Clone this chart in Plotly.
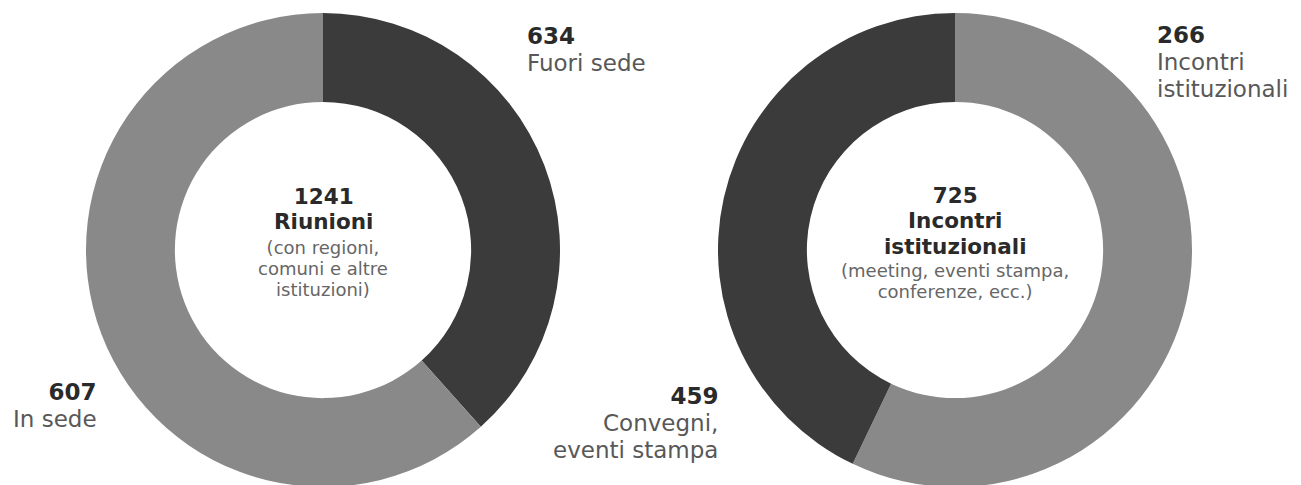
import plotly.graph_objects as go

W, H = 1301, 485
OFF = 8  # page body margin of the rendered html

# Left donut: Riunioni
left_labels = ["Fuori sede", "In sede"]
left_counts = [634, 607]
left_share = [38.4, 61.6]          # slice sizes as drawn in the picture (%)
left_total = 1241
left_title = ["1241", "Riunioni"]
left_sub = ["(con regioni,", "comuni e altre", "istituzioni)"]

# Right donut: Incontri istituzionali
right_labels = ["Incontri istituzionali", "Convegni, eventi stampa"]
right_counts = [266, 459]
right_share = [57.1, 42.9]         # slice sizes as drawn in the picture (%)
right_total = 725
right_title = ["725", "Incontri", "istituzionali"]
right_sub = ["(meeting, eventi stampa,", "conferenze, ecc.)"]
right_label_lines = [["Incontri", "istituzionali"], ["Convegni,", "eventi stampa"]]

DARK = "#3b3b3b"
LIGHT = "#898989"
TXT_B = "#2a2a2a"
TXT_R = "#585858"
TXT_S = "#666666"
FONT = "DejaVu Sans"

def px_x(x):
    return (x - OFF) / W

def px_y(y):
    return 1 - (y - OFF) / H

R = 237
dom_y = [1 - (250 + R - OFF) / H, 1 - (250 - R - OFF) / H]

fig = go.Figure()
fig.add_trace(go.Pie(
    labels=left_labels, values=left_share, sort=False, direction="clockwise",
    rotation=0, hole=0.625, textinfo="none", hoverinfo="none",
    marker=dict(colors=[DARK, LIGHT], line=dict(width=0)),
    domain=dict(x=[px_x(323 - R), px_x(323 + R)], y=dom_y),
))
fig.add_trace(go.Pie(
    labels=right_labels, values=right_share, sort=False, direction="clockwise",
    rotation=0, hole=0.625, textinfo="none", hoverinfo="none",
    marker=dict(colors=[LIGHT, DARK], line=dict(width=0)),
    domain=dict(x=[px_x(955 - R), px_x(955 + R)], y=dom_y),
))

ann = []

def block(lines, xpx, ypx, base, glyph, color, anchor="center", bold_first=False,
          all_bold=False, first_color=None):
    parts = []
    for i, s in enumerate(lines):
        c = first_color if (i == 0 and first_color) else color
        t = f'<span style="font-size:{glyph}px;color:{c}">{s}</span>'
        if all_bold or (bold_first and i == 0):
            t = f"<b>{t}</b>"
        parts.append(t)
    ann.append(dict(
        text="<br>".join(parts), align=anchor,
        x=px_x(xpx), y=px_y(ypx), xref="paper", yref="paper",
        xanchor=anchor, yanchor="middle", showarrow=False,
        font=dict(family=FONT, size=base, color=color),
    ))

# centre texts
block(left_title, 323, 208.5, 19.6, 21.5, TXT_B, all_bold=True)
block(left_sub, 323, 268.5, 16.2, 18, TXT_S)
block(right_title, 955, 221, 19.6, 21.5, TXT_B, all_bold=True)
block(right_sub, 955, 280.5, 16.2, 18, TXT_S)

# outer labels
block([str(left_counts[0]), left_labels[0]], 525, 49.5, 20.8, 23, TXT_R,
      anchor="left", bold_first=True, first_color=TXT_B)
block([str(left_counts[1]), left_labels[1]], 99, 405, 20.8, 23, TXT_R,
      anchor="right", bold_first=True, first_color=TXT_B)
block([str(right_counts[0])] + right_label_lines[0], 1155, 62, 20.8, 23, TXT_R,
      anchor="left", bold_first=True, first_color=TXT_B)
block([str(right_counts[1])] + right_label_lines[1], 720, 423, 20.8, 23, TXT_R,
      anchor="right", bold_first=True, first_color=TXT_B)

fig.update_layout(
    width=W, height=H, margin=dict(l=0, r=0, t=0, b=0),
    paper_bgcolor="white", plot_bgcolor="white", showlegend=False,
    annotations=ann,
)

fig.write_html("out.html")
